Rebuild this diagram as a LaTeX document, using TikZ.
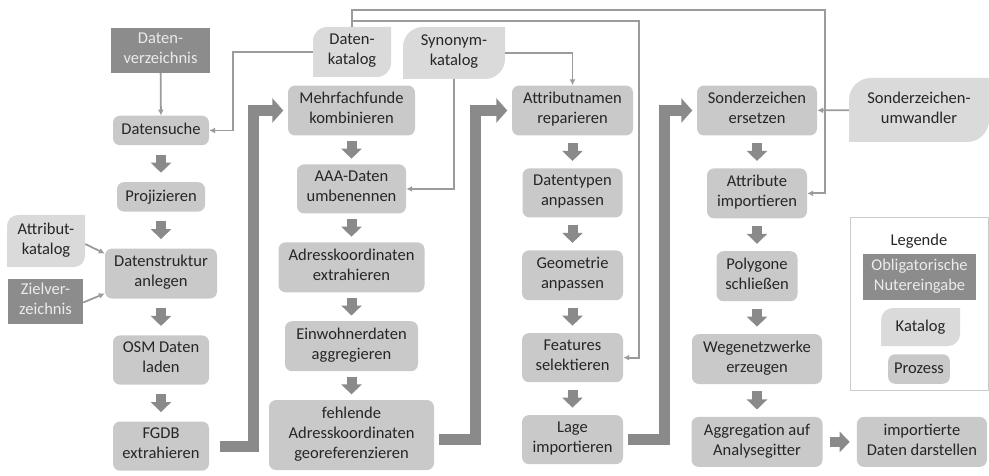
\documentclass[tikz,border=0pt]{standalone}
\usepackage{fontspec}
\setmainfont{Carlito}
\usetikzlibrary{arrows.meta,positioning}

\definecolor{procgray}{RGB}{201,201,201}
\definecolor{katgray}{RGB}{218,218,218}
\definecolor{nutzgray}{RGB}{140,140,140}
\definecolor{flowgray}{RGB}{138,138,138}
\definecolor{linegray}{RGB}{155,155,155}
\newcommand{\boxfont}{\fontsize{16.5}{20}\selectfont}

\begin{document}
\begin{tikzpicture}[x=1pt, y=1pt,
  txt/.style={align=center, font=\boxfont, execute at begin node={\rule{0pt}{13.5pt}}, execute at end node={\rule[-5pt]{0pt}{5pt}}},
  proc/.style={txt, fill=procgray, rounded corners=7pt, text=black!85, inner xsep=6pt, inner ysep=6.75pt},
  nutz/.style={txt, fill=nutzgray, text=white!92!black, inner xsep=8pt, inner ysep=4.5pt},
  katalog/.style={txt, fill=white, text=black!85, inner sep=3pt, path picture={
    \fill[katgray] (path picture bounding box.south west) -- ([yshift=-#1]path picture bounding box.north west)
      arc[start angle=180, end angle=90, radius=#1] -- (path picture bounding box.north east)
      -- ([yshift=#1]path picture bounding box.south east) arc[start angle=0, end angle=-90, radius=#1] -- cycle;}},
  katalog/.default=14pt,
  conn/.style={draw=linegray, line width=1.8pt, -{Latex[length=6pt,width=6pt]}},
  flow/.style={draw=flowgray, line width=10pt, -{Triangle[length=10pt,width=20pt]}, shorten <=#1, shorten >=#1},
  bigflow/.style={draw=flowgray, line width=11pt, -{Triangle[length=11pt,width=24pt]}, shorten >=4.5pt}
]
\useasboundingbox (0,0) rectangle (989,-476);

\node[nutz, minimum width=99pt] (dv) at (160.5,-50.5) {Daten-\\verzeichnis};
\node[proc, minimum width=96pt, inner ysep=5.5pt] (ds) at (161,-130.5) {Datensuche};
\node[proc, minimum width=88pt, inner ysep=5.5pt, below=36.5pt of ds] (pj) {Projizieren};
\node[proc, minimum width=112pt, below=36.5pt of pj] (dst) {Datenstruktur\\anlegen};
\node[proc, minimum width=96pt, below=36.5pt of dst] (osm) {OSM Daten\\laden};
\node[proc, minimum width=96pt, below=36.5pt of osm] (fg) {FGDB\\extrahieren};
\node[katalog=11pt, minimum width=78pt, minimum height=52pt] (ak) at (46,-241) {Attribut-\\katalog};
\node[nutz, minimum width=75pt] (zv) at (45.5,-301.5) {Zielver-\\zeichnis};

\node[katalog, minimum width=78pt, minimum height=50pt] (dk) at (352,-52) {Daten-\\katalog};
\node[katalog=20pt, minimum width=102pt, minimum height=52pt] (sk) at (454,-53) {Synonym-\\katalog};
\node[katalog=22pt, minimum width=140pt, minimum height=64pt] (su) at (919,-110) {Sonderzeichen-\\umwandler};

\node[proc, minimum width=127pt] (mk) at (351.5,-110.5) {Mehrfachfunde\\kombinieren};
\node[proc, minimum width=109pt, below=28.5pt of mk] (aaa) {AAA-Daten\\umbenennen};
\node[proc, minimum width=146pt, below=28.5pt of aaa] (ake) {Adresskoordinaten\\extrahieren};
\node[proc, minimum width=133pt, below=28.5pt of ake] (ew) {Einwohnerdaten\\aggregieren};
\node[proc, minimum width=165pt, below=28.5pt of ew] (fe) {fehlende\\Adresskoordinaten\\georeferenzieren};

\node[proc, minimum width=121pt] (at) at (572.5,-110.5) {Attributnamen\\reparieren};
\node[proc, minimum width=100pt, below=32.5pt of at] (dt) {Datentypen\\anpassen};
\node[proc, minimum width=101pt, below=32.5pt of dt] (geo) {Geometrie\\anpassen};
\node[proc, minimum width=101pt, below=32.5pt of geo] (fs) {Features\\selektieren};
\node[proc, minimum width=101pt, below=32.5pt of fs] (li) {Lage\\importieren};

\node[proc, minimum width=120pt] (se) at (757,-110.5) {Sonderzeichen\\ersetzen};
\node[proc, minimum width=100pt, below=32.5pt of se] (ai) {Attribute\\importieren};
\node[proc, minimum width=81pt, below=32.5pt of ai] (ps) {Polygone\\schließen};
\node[proc, minimum width=130pt, below=32.5pt of ps] (wn) {Wegenetzwerke\\erzeugen};
\node[proc, minimum width=131pt, below=32.5pt of wn] (ag) {Aggregation auf\\Analysegitter};
\node[proc, minimum width=130pt, right=34pt of ag] (id) {importierte\\Daten darstellen};

\node[draw=black!20, line width=1pt, minimum width=138pt, minimum height=172pt, inner sep=0pt] (leg) at (919,-304) {};
\node[txt, text=black!85] (lt) at (919,-241) {Legende};
\node[nutz] (l1) at (919.5,-277) {Obligatorische\\Nutereingabe};
\node[katalog=12pt, minimum width=79pt, minimum height=38pt] (l2) at (920.5,-327) {Katalog};
\node[proc, inner ysep=5.5pt] (l3) at (919,-369) {Prozess};

\draw[conn] (dv) -- (ds);
\draw[conn] (dk.west) -- ++(-80,0) |- (ds.east);
\draw[conn] (dk.north) -- ++(0,17) -| ([xshift=18pt]ai.east) -- (ai.east);
\draw[conn] ([yshift=6pt]dk.north) -| ([xshift=16pt]fs.east) -- (fs.east);
\draw[conn] (sk.east) -| (at.north);
\draw[conn] (sk.south) |- (aaa.east);
\draw[conn] (su) -- (se);
\draw[conn] ([yshift=-3pt]ak.east) -- ([yshift=20pt]dst.west);
\draw[conn] ([yshift=-1pt]zv.east) -- ([yshift=-20pt]dst.west);

\draw[flow=9.25pt] (ds) -- (pj);
\draw[flow=9.25pt] (pj) -- (dst);
\draw[flow=9.25pt] (dst) -- (osm);
\draw[flow=9.25pt] (osm) -- (fg);
\draw[flow=5.5pt] (mk) -- (aaa);
\draw[flow=5.5pt] (aaa) -- (ake);
\draw[flow=5.5pt] (ake) -- (ew);
\draw[flow=5.5pt] (ew) -- (fe);
\draw[flow=7.25pt] (at) -- (dt);
\draw[flow=7.25pt] (dt) -- (geo);
\draw[flow=7.25pt] (geo) -- (fs);
\draw[flow=7.25pt] (fs) -- (li);
\draw[flow=7.25pt] (se) -- (ai);
\draw[flow=7.25pt] (ai) -- (ps);
\draw[flow=7.25pt] (ps) -- (wn);
\draw[flow=7.25pt] (wn) -- (ag);
\draw[flow=7pt] (ag) -- (id);

\draw[bigflow] ([xshift=11pt]fg.east) -| ([xshift=-34pt]mk.west) -- (mk.west);
\draw[bigflow] ([shift={(5pt,-4pt)}]fe.east) -| ([xshift=-36pt]at.west) -- (at.west);
\draw[bigflow] ([xshift=5pt]li.east) -| ([xshift=-32pt]se.west) -- (se.west);
\end{tikzpicture}
\end{document}
